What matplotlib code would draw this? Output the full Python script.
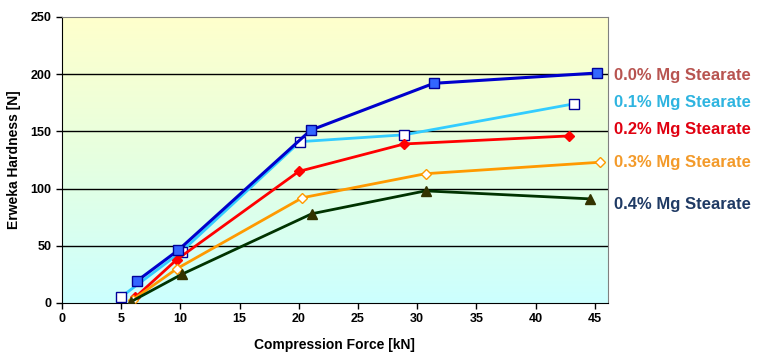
import numpy as np
import matplotlib.pyplot as plt
from matplotlib.colors import LinearSegmentedColormap

plt.rcParams['font.family'] = ['Liberation Sans', 'DejaVu Sans']

# series: (compression force kN, hardness N)
x_00 = [6.3, 9.8, 21.0, 31.4, 45.2]
y_00 = [19, 46, 151, 192, 201]
x_01 = [4.95, 10.1, 20.1, 28.9, 43.2]
y_01 = [5, 45, 141, 147, 174]
x_02 = [6.2, 9.7, 20.0, 28.9, 42.8]
y_02 = [5, 38, 115, 139, 146]
x_03 = [6.0, 9.7, 20.3, 30.7, 45.4]
y_03 = [3, 30, 92, 113, 123]
x_04 = [5.8, 10.1, 21.1, 30.7, 44.6]
y_04 = [1, 25, 78, 98, 91]

labels = ['0.0% Mg Stearate', '0.1% Mg Stearate', '0.2% Mg Stearate',
          '0.3% Mg Stearate', '0.4% Mg Stearate']
label_y = [199, 175, 152, 123, 86]
label_colors = ['#B85450', '#2EB4E0', '#E00010', '#F39A2A', '#1F3A64']

fig = plt.figure(figsize=(7.71, 3.63), dpi=100)
ax = fig.add_axes([0.0804, 0.1653, 0.708, 0.788])

# yellow -> cyan background gradient
cmap = LinearSegmentedColormap.from_list('bg', ['#CCFFFF', '#E6FFE0', '#FFFFCC'])
grad = np.linspace(0, 1, 256).reshape(-1, 1)
ax.imshow(grad, cmap=cmap, aspect='auto', extent=[0, 1, 0, 1],
          transform=ax.transAxes, origin='lower', zorder=0)

for yy in [50, 100, 150, 200]:
    ax.axhline(yy, color='black', lw=1, zorder=1)

ax.plot(x_01, y_01, color='#33CCFF', lw=2, marker='s', ms=7.5,
        mfc='white', mec='#000099', mew=1, zorder=3)
ax.plot(x_00, y_00, color='#0000CC', lw=2.2, marker='s', ms=7.5,
        mfc='#3366FF', mec='#000099', mew=1, zorder=4)
ax.plot(x_02, y_02, color='#FF0000', lw=2, marker='D', ms=5,
        mfc='#FF0000', mec='#FF0000', zorder=3)
ax.plot(x_03, y_03, color='#FF9900', lw=2, marker='D', ms=5,
        mfc='white', mec='#FF9900', mew=1, zorder=3)
ax.plot(x_04, y_04, color='#003300', lw=2, marker='^', ms=7,
        mfc='#333300', mec='#333300', zorder=3)

ax.set_xlim(0, 46.1)
ax.set_ylim(0, 250)
ax.set_xticks(range(0, 50, 5))
ax.set_yticks(range(0, 300, 50))
ax.tick_params(direction='out', length=4, width=1, labelsize=9)
for t in ax.get_xticklabels() + ax.get_yticklabels():
    t.set_fontweight('bold')

for s in ['top', 'right']:
    ax.spines[s].set_color('#808080')
for s in ['left', 'bottom']:
    ax.spines[s].set_color('black')

ax.set_xlabel('Compression Force [kN]', fontsize=10, fontweight='bold', labelpad=9)
ax.set_ylabel('Erweka Hardness [N]', fontsize=10, fontweight='bold', labelpad=7)

for lab, ly, lc in zip(labels, label_y, label_colors):
    ax.text(1.012, ly, lab, transform=ax.get_yaxis_transform(), color=lc,
            fontsize=12, fontweight='bold', va='center', ha='left')

fig.savefig('out.png', dpi=100)
